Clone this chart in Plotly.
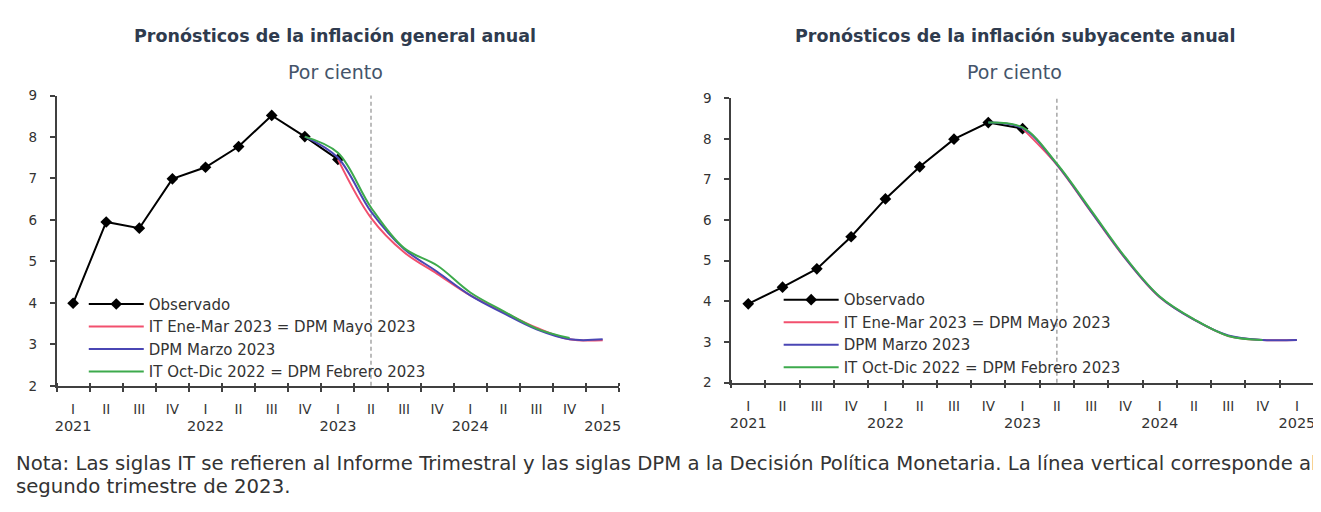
import plotly.graph_objects as go

W, H = 1321, 512

# ---------------- data ----------------
quarters = ["I", "II", "III", "IV", "I", "II", "III", "IV", "I", "II", "III", "IV",
            "I", "II", "III", "IV", "I"]
quarter_years = ["2021"] * 4 + ["2022"] * 4 + ["2023"] * 4 + ["2024"] * 4 + ["2025"]
categories = [f"{y} {q}" for y, q in zip(quarter_years, quarters)]
year_labels = ["2021", "2022", "2023", "2024", "2025"]
vertical_line_quarter = "2023 II"

# Inflación general anual (por ciento)
gen_observado = [3.99, 5.95, 5.80, 6.99, 7.27, 7.77, 8.52, 8.01, 7.46]          # 2021 I ..
gen_it_ene_mar_2023 = [7.46, 6.05, 5.22, 4.70, 4.18, 3.78, 3.40, 3.12, 3.10]    # 2023 I ..
gen_dpm_marzo_2023 = [8.01, 7.50, 6.20, 5.30, 4.75, 4.18, 3.75, 3.36, 3.12, 3.12]  # 2022 IV ..
gen_it_oct_dic_2022 = [8.01, 7.62, 6.30, 5.32, 4.90, 4.25, 3.80, 3.38, 3.15]    # 2022 IV ..

# Inflación subyacente anual (por ciento)
sub_observado = [3.94, 4.35, 4.80, 5.59, 6.52, 7.31, 7.99, 8.40, 8.25]
sub_it_ene_mar_2023 = [8.25, 7.36, 6.20, 5.05, 4.10, 3.55, 3.15, 3.05, 3.05]
sub_dpm_marzo_2023 = [8.40, 8.26, 7.37, 6.21, 5.06, 4.11, 3.55, 3.16, 3.05, 3.05]
sub_it_oct_dic_2022 = [8.40, 8.28, 7.39, 6.24, 5.08, 4.12, 3.56, 3.15, 3.05]

starts = {"obs": "2021 I", "ene_mar": "2023 I", "marzo": "2022 IV", "oct_dic": "2022 IV"}

names = ["Observado", "IT Ene-Mar 2023 = DPM Mayo 2023", "DPM Marzo 2023",
         "IT Oct-Dic 2022 = DPM Febrero 2023"]
colors = ["#000000", "#F2506E", "#4A46B4", "#3DAA4C"]

FONT = "DejaVu Sans"
pos = {c: i for i, c in enumerate(categories)}


def xs_for(series, start):
    i0 = pos[start]
    return list(range(i0, i0 + len(series)))


fig = go.Figure()

panels = [
    ("x", "y", "legend", [gen_observado, gen_it_ene_mar_2023, gen_dpm_marzo_2023, gen_it_oct_dic_2022]),
    ("x2", "y2", "legend2", [sub_observado, sub_it_ene_mar_2023, sub_dpm_marzo_2023, sub_it_oct_dic_2022]),
]
start_keys = ["obs", "ene_mar", "marzo", "oct_dic"]

for xa, ya, leg, series_list in panels:
    for k, (s, key) in enumerate(zip(series_list, start_keys)):
        if k == 0:
            fig.add_trace(go.Scatter(
                x=xs_for(s, starts[key]), y=s, name=names[k], mode="lines+markers",
                line=dict(color=colors[k], width=2),
                marker=dict(symbol="diamond", size=9, color=colors[k]),
                xaxis=xa, yaxis=ya, legend=leg, hoverinfo="x+y"))
        else:
            fig.add_trace(go.Scatter(
                x=xs_for(s, starts[key]), y=s, name=names[k], mode="lines",
                line=dict(color=colors[k], width=2, shape="spline", smoothing=1),
                xaxis=xa, yaxis=ya, legend=leg, hoverinfo="x+y"))

# empty helper traces so the overlaid year axes are drawn
for xa, ya in [("x3", "y"), ("x4", "y2")]:
    fig.add_trace(go.Scatter(x=[], y=[], xaxis=xa, yaxis=ya, showlegend=False,
                             hoverinfo="skip"))

xrange = [-0.5, len(categories) - 0.5]
half_ticks = [i - 0.5 for i in range(len(categories) + 1)]
year_pos = [pos[f"{y} I"] for y in year_labels]

AX = "#404040"
TICKF = dict(family=FONT, size=13.5, color="#333333")
YEARF = dict(family=FONT, size=14.5, color="#333333")

left_dom = [46.7 / W, 611.1 / W]
right_dom = [723.3 / W, 1308.0 / W]
left_ydom = [1 - 381.7 / H, 1 - 82.1 / H]
right_ydom = [1 - 378.5 / H, 1 - 84.8 / H]


def main_x(dom, anchor):
    return dict(domain=dom, anchor=anchor, range=xrange, tickmode="array",
                tickvals=list(range(len(categories))), ticktext=quarters,
                ticks="", showline=True, linecolor=AX, linewidth=1.5,
                showgrid=False, zeroline=False, tickfont=TICKF,
                ticklabelstandoff=10,
                minor=dict(tickmode="array", tickvals=half_ticks, ticks="outside",
                           ticklen=4, tickcolor=AX, tickwidth=1.5, showgrid=False))


def year_x(over, anchor):
    return dict(overlaying=over, anchor=anchor, range=xrange, tickmode="array",
                tickvals=year_pos, ticktext=year_labels, ticks="", showline=False,
                showgrid=False, zeroline=False, tickfont=YEARF, side="bottom",
                ticklabelstandoff=30,
                minor=dict(tickmode="array", tickvals=half_ticks, ticks="inside",
                           ticklen=3, tickcolor=AX, tickwidth=1.5, showgrid=False))


def main_y(dom, anchor):
    return dict(domain=dom, anchor=anchor, range=[2, 9], tickmode="array",
                tickvals=list(range(2, 10)), ticks="outside", ticklen=5,
                tickcolor=AX, tickwidth=1.5, showline=True, linecolor=AX,
                linewidth=1.5, showgrid=False, zeroline=False, tickfont=TICKF,
                ticklabelstandoff=10)


fig.update_layout(
    width=W, height=H, margin=dict(l=0, r=0, t=0, b=0),
    paper_bgcolor="white", plot_bgcolor="white",
    font=dict(family=FONT, color="#333333"),
    xaxis=main_x(left_dom, "y"),
    xaxis2=main_x(right_dom, "y2"),
    xaxis3=year_x("x", "y"),
    xaxis4=year_x("x2", "y2"),
    yaxis=main_y(left_ydom, "x"),
    yaxis2=main_y(right_ydom, "x2"),
    legend=dict(x=74 / W, y=1 - 280.5 / H, xanchor="left", yanchor="top",
                bgcolor="rgba(0,0,0,0)", font=dict(family=FONT, size=15, color="#333333"),
                itemwidth=55, tracegroupgap=0),
    legend2=dict(x=771 / W, y=1 - 276 / H, xanchor="left", yanchor="top",
                 bgcolor="rgba(0,0,0,0)", font=dict(family=FONT, size=15, color="#333333"),
                 itemwidth=55, tracegroupgap=0),
    showlegend=True,
)

for xa, ya in [("x", "y"), ("x2", "y2")]:
    fig.add_shape(type="line", xref=xa, yref=f"{ya} domain",
                  x0=pos[vertical_line_quarter], x1=pos[vertical_line_quarter], y0=0, y1=1,
                  line=dict(color="#A6A6A6", width=1.5, dash="4px,3px"), layer="below")

titles = [("Pronósticos de la inflación general anual", 326),
          ("Pronósticos de la inflación subyacente anual", 1008)]
for t, cx in titles:
    fig.add_annotation(text=f"<b>{t}</b>", xref="paper", yref="paper", x=cx / W, y=1 - 21 / H,
                       xanchor="center", yanchor="middle", showarrow=False,
                       font=dict(family=FONT, size=17.5, color="#2F3B4E"))
    fig.add_annotation(text="Por ciento", xref="paper", yref="paper", x=cx / W, y=1 - 58 / H,
                       xanchor="center", yanchor="middle", showarrow=False,
                       font=dict(family=FONT, size=19, color="#44546A"))

note1 = ("Nota: Las siglas IT se refieren al Informe Trimestral y las siglas DPM a la Decisión "
         "Política Monetaria. La línea vertical corresponde al")
note2 = "segundo trimestre de 2023."
fig.add_annotation(text=note1, xref="paper", yref="paper", x=4 / W, y=1 - 462 / H,
                   xanchor="left", yanchor="middle", showarrow=False,
                   font=dict(family=FONT, size=19.7, color="#333333"))
fig.add_annotation(text=note2, xref="paper", yref="paper", x=4 / W, y=1 - 486 / H,
                   xanchor="left", yanchor="middle", showarrow=False,
                   font=dict(family=FONT, size=19.7, color="#333333"))

fig.write_html("out.html")
